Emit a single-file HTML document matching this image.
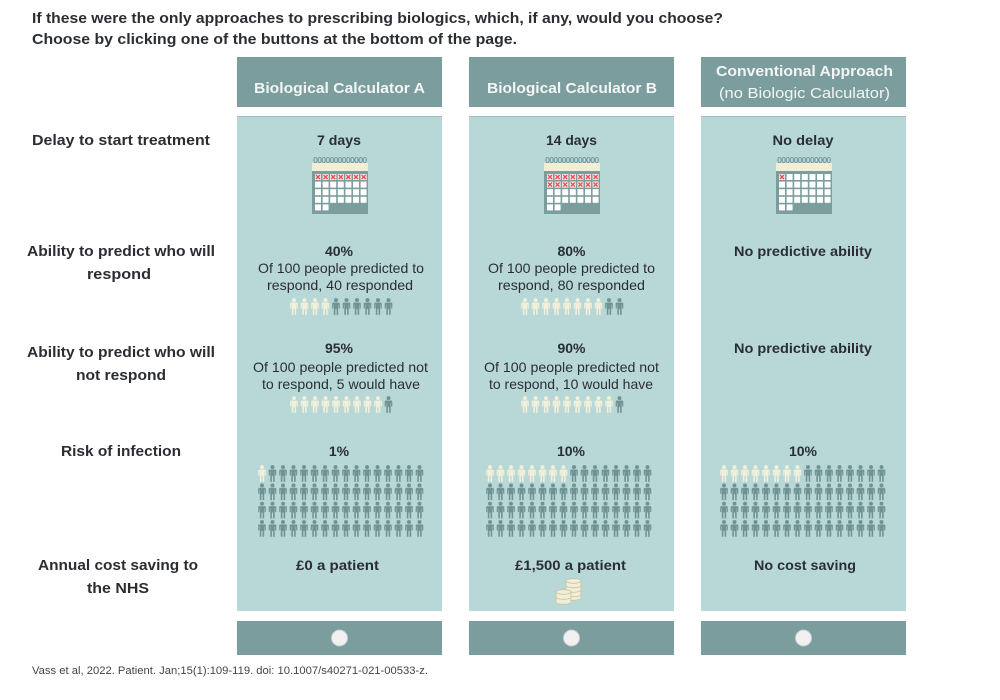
<!DOCTYPE html>
<html><head><meta charset="utf-8"><style>
html,body{margin:0;padding:0;background:#fff;width:1000px;height:700px;overflow:hidden}
svg{display:block}
text{font-family:"Liberation Sans",Arial,sans-serif;fill:#2a2e33}
.t{font-size:15px;font-weight:bold}
.h{font-size:15px;font-weight:bold;fill:#f4f5f5}
.hr{font-size:15px;fill:#f4f5f5}
.v{font-size:14px;font-weight:bold}
.d{font-size:14px}
</style></head><body>
<svg width="1000" height="700" viewBox="0 0 1000 700" xmlns="http://www.w3.org/2000/svg">
<defs>
<symbol id="p" viewBox="0 0 8 17" width="8" height="17">
<circle cx="4" cy="2.1" r="2"/>
<path d="M1.2,4.6 H6.8 A1,1 0 0 1 7.8,5.6 V10.5 H6.6 V6.6 H6.2 V17 H4.6 V11 H3.4 V17 H1.8 V6.6 H1.4 V10.5 H0.2 V5.6 A1,1 0 0 1 1.2,4.6 Z"/>
</symbol>
<pattern id="pd" patternUnits="userSpaceOnUse" x="0" y="0" width="10.5" height="18.3"><use href="#p" x="0" y="0" fill="#6f9292"/></pattern>
<pattern id="pl" patternUnits="userSpaceOnUse" x="0" y="0" width="10.5" height="18.3"><use href="#p" x="0" y="0" fill="#f3f0d9"/></pattern>
<g id="cal">
<g fill="none" stroke="#6f8f8f" stroke-width="0.9">
<ellipse cx="3.5" cy="3" rx="1.6" ry="2.6"/><ellipse cx="7.6" cy="3" rx="1.6" ry="2.6"/><ellipse cx="11.7" cy="3" rx="1.6" ry="2.6"/><ellipse cx="15.8" cy="3" rx="1.6" ry="2.6"/><ellipse cx="19.9" cy="3" rx="1.6" ry="2.6"/><ellipse cx="24" cy="3" rx="1.6" ry="2.6"/><ellipse cx="28.1" cy="3" rx="1.6" ry="2.6"/><ellipse cx="32.2" cy="3" rx="1.6" ry="2.6"/><ellipse cx="36.3" cy="3" rx="1.6" ry="2.6"/><ellipse cx="40.4" cy="3" rx="1.6" ry="2.6"/><ellipse cx="44.5" cy="3" rx="1.6" ry="2.6"/><ellipse cx="48.6" cy="3" rx="1.6" ry="2.6"/><ellipse cx="52.7" cy="3" rx="1.6" ry="2.6"/>
</g>
<rect x="0" y="6" width="56" height="8" fill="#f2eed5"/>
<rect x="0" y="14" width="56" height="43" fill="#7b9d9d"/>
<g fill="#ffffff">
<rect x="3" y="17" width="6" height="6"/><rect x="10.6" y="17" width="6" height="6"/><rect x="18.2" y="17" width="6" height="6"/><rect x="25.8" y="17" width="6" height="6"/><rect x="33.4" y="17" width="6" height="6"/><rect x="41" y="17" width="6" height="6"/><rect x="48.6" y="17" width="6" height="6"/>
<rect x="3" y="24.6" width="6" height="6"/><rect x="10.6" y="24.6" width="6" height="6"/><rect x="18.2" y="24.6" width="6" height="6"/><rect x="25.8" y="24.6" width="6" height="6"/><rect x="33.4" y="24.6" width="6" height="6"/><rect x="41" y="24.6" width="6" height="6"/><rect x="48.6" y="24.6" width="6" height="6"/>
<rect x="3" y="32.2" width="6" height="6"/><rect x="10.6" y="32.2" width="6" height="6"/><rect x="18.2" y="32.2" width="6" height="6"/><rect x="25.8" y="32.2" width="6" height="6"/><rect x="33.4" y="32.2" width="6" height="6"/><rect x="41" y="32.2" width="6" height="6"/><rect x="48.6" y="32.2" width="6" height="6"/>
<rect x="3" y="39.8" width="6" height="6"/><rect x="10.6" y="39.8" width="6" height="6"/><rect x="18.2" y="39.8" width="6" height="6"/><rect x="25.8" y="39.8" width="6" height="6"/><rect x="33.4" y="39.8" width="6" height="6"/><rect x="41" y="39.8" width="6" height="6"/><rect x="48.6" y="39.8" width="6" height="6"/>
<rect x="3" y="47.4" width="6" height="6"/><rect x="10.6" y="47.4" width="6" height="6"/>
</g>
</g>
<g id="xc"><rect x="0" y="0" width="6" height="6" fill="#fbe1e1"/><path d="M1,1 L5,5 M5,1 L1,5" stroke="#e6504f" stroke-width="1.3"/></g>
<g id="xrow"><use href="#xc" x="3"/><use href="#xc" x="10.6"/><use href="#xc" x="18.2"/><use href="#xc" x="25.8"/><use href="#xc" x="33.4"/><use href="#xc" x="41"/><use href="#xc" x="48.6"/></g>
</defs>

<!-- title -->
<text class="t" x="32" y="23" textLength="691" lengthAdjust="spacingAndGlyphs">If these were the only approaches to prescribing biologics, which, if any, would you choose?</text>
<text class="t" x="32" y="44" textLength="485" lengthAdjust="spacingAndGlyphs">Choose by clicking one of the buttons at the bottom of the page.</text>

<!-- headers -->
<rect x="237" y="57" width="205" height="50" fill="#7b9d9d"/>
<rect x="469" y="57" width="205" height="50" fill="#7b9d9d"/>
<rect x="701" y="57" width="205" height="50" fill="#7b9d9d"/>
<text class="h" x="339.5" y="93" text-anchor="middle" textLength="171" lengthAdjust="spacingAndGlyphs">Biological Calculator A</text>
<text class="h" x="572" y="93" text-anchor="middle" textLength="170" lengthAdjust="spacingAndGlyphs">Biological Calculator B</text>
<text class="h" x="804.5" y="76" text-anchor="middle" textLength="177" lengthAdjust="spacingAndGlyphs">Conventional Approach</text>
<text class="hr" x="804.5" y="98" text-anchor="middle" textLength="171" lengthAdjust="spacingAndGlyphs">(no Biologic Calculator)</text>

<!-- bodies -->
<rect x="237" y="116" width="205" height="495" fill="#b8d7d7"/>
<rect x="469" y="116" width="205" height="495" fill="#b8d7d7"/>
<rect x="701" y="116" width="205" height="495" fill="#b8d7d7"/>
<rect x="237" y="116" width="205" height="1" fill="#9dbebe"/>
<rect x="469" y="116" width="205" height="1" fill="#9dbebe"/>
<rect x="701" y="116" width="205" height="1" fill="#9dbebe"/>

<!-- buttons -->
<rect x="237" y="621" width="205" height="34" fill="#7b9d9d"/>
<rect x="469" y="621" width="205" height="34" fill="#7b9d9d"/>
<rect x="701" y="621" width="205" height="34" fill="#7b9d9d"/>
<circle cx="339.5" cy="638" r="8" fill="#f1f1f1" stroke="#c9cccc" stroke-width="1"/>
<circle cx="571.5" cy="638" r="8" fill="#f1f1f1" stroke="#c9cccc" stroke-width="1"/>
<circle cx="803.5" cy="638" r="8" fill="#f1f1f1" stroke="#c9cccc" stroke-width="1"/>

<!-- row labels -->
<text class="t" x="121" y="145" text-anchor="middle" textLength="178" lengthAdjust="spacingAndGlyphs">Delay to start treatment</text>
<text class="t" x="121" y="256" text-anchor="middle" textLength="188" lengthAdjust="spacingAndGlyphs">Ability to predict who will</text>
<text class="t" x="119" y="279" text-anchor="middle" textLength="64" lengthAdjust="spacingAndGlyphs">respond</text>
<text class="t" x="121" y="357" text-anchor="middle" textLength="188" lengthAdjust="spacingAndGlyphs">Ability to predict who will</text>
<text class="t" x="121" y="380" text-anchor="middle" textLength="90" lengthAdjust="spacingAndGlyphs">not respond</text>
<text class="t" x="121" y="456" text-anchor="middle" textLength="120" lengthAdjust="spacingAndGlyphs">Risk of infection</text>
<text class="t" x="118" y="570" text-anchor="middle" textLength="160" lengthAdjust="spacingAndGlyphs">Annual cost saving to</text>
<text class="t" x="118" y="593" text-anchor="middle" textLength="62" lengthAdjust="spacingAndGlyphs">the NHS</text>

<!-- delay -->
<text class="v" x="339" y="145" text-anchor="middle" textLength="44" lengthAdjust="spacingAndGlyphs">7 days</text>
<text class="v" x="571.5" y="145" text-anchor="middle" textLength="51" lengthAdjust="spacingAndGlyphs">14 days</text>
<text class="v" x="803" y="145" text-anchor="middle" textLength="61" lengthAdjust="spacingAndGlyphs">No delay</text>
<g transform="translate(312,157)"><use href="#cal"/><use href="#xrow" y="17"/></g>
<g transform="translate(544,157)"><use href="#cal"/><use href="#xrow" y="17"/><use href="#xrow" y="24.6"/></g>
<g transform="translate(776,157)"><use href="#cal"/><use href="#xc" x="3" y="17"/></g>

<!-- predict respond -->
<text class="v" x="339" y="256" text-anchor="middle">40%</text>
<text class="d" x="341" y="273" text-anchor="middle" textLength="166" lengthAdjust="spacingAndGlyphs">Of 100 people predicted to</text>
<text class="d" x="340" y="290" text-anchor="middle" textLength="146" lengthAdjust="spacingAndGlyphs">respond, 40 responded</text>
<g transform="translate(290,298)"><rect x="0" y="0" width="42" height="18.3" fill="url(#pl)"/><rect x="42" y="0" width="63" height="18.3" fill="url(#pd)" transform="translate(0,0)"/></g>

<text class="v" x="571.5" y="256" text-anchor="middle">80%</text>
<text class="d" x="571.5" y="273" text-anchor="middle" textLength="167" lengthAdjust="spacingAndGlyphs">Of 100 people predicted to</text>
<text class="d" x="571.5" y="290" text-anchor="middle" textLength="147" lengthAdjust="spacingAndGlyphs">respond, 80 responded</text>
<g transform="translate(521,298)"><rect x="0" y="0" width="84" height="18.3" fill="url(#pl)"/><rect x="84" y="0" width="21" height="18.3" fill="url(#pd)"/></g>

<text class="v" x="803" y="256" text-anchor="middle" textLength="138" lengthAdjust="spacingAndGlyphs">No predictive ability</text>

<!-- predict not respond -->
<text class="v" x="339" y="353" text-anchor="middle">95%</text>
<text class="d" x="340.5" y="372" text-anchor="middle" textLength="175" lengthAdjust="spacingAndGlyphs">Of 100 people predicted not</text>
<text class="d" x="341" y="389" text-anchor="middle" textLength="158" lengthAdjust="spacingAndGlyphs">to respond, 5 would have</text>
<g transform="translate(290,396)"><rect x="0" y="0" width="94.5" height="18.3" fill="url(#pl)"/><rect x="94.5" y="0" width="10.5" height="18.3" fill="url(#pd)"/></g>

<text class="v" x="571.5" y="353" text-anchor="middle">90%</text>
<text class="d" x="571.5" y="372" text-anchor="middle" textLength="175" lengthAdjust="spacingAndGlyphs">Of 100 people predicted not</text>
<text class="d" x="571" y="389" text-anchor="middle" textLength="164" lengthAdjust="spacingAndGlyphs">to respond, 10 would have</text>
<g transform="translate(521,396)"><rect x="0" y="0" width="94.5" height="18.3" fill="url(#pl)"/><rect x="94.5" y="0" width="10.5" height="18.3" fill="url(#pd)"/></g>

<text class="v" x="803" y="353" text-anchor="middle" textLength="138" lengthAdjust="spacingAndGlyphs">No predictive ability</text>

<!-- risk of infection -->
<text class="v" x="339" y="456" text-anchor="middle">1%</text>
<text class="v" x="571" y="456" text-anchor="middle">10%</text>
<text class="v" x="803" y="456" text-anchor="middle">10%</text>
<g transform="translate(258,465)"><rect x="0" y="0" width="10.5" height="18.3" fill="url(#pl)"/><rect x="10.5" y="0" width="157.5" height="18.3" fill="url(#pd)"/><rect x="0" y="18.3" width="168" height="54.9" fill="url(#pd)"/></g>
<g transform="translate(486,465)"><rect x="0" y="0" width="84" height="18.3" fill="url(#pl)"/><rect x="84" y="0" width="84" height="18.3" fill="url(#pd)"/><rect x="0" y="18.3" width="168" height="54.9" fill="url(#pd)"/></g>
<g transform="translate(720,465)"><rect x="0" y="0" width="84" height="18.3" fill="url(#pl)"/><rect x="84" y="0" width="84" height="18.3" fill="url(#pd)"/><rect x="0" y="18.3" width="168" height="54.9" fill="url(#pd)"/></g>

<!-- cost -->
<text class="v" x="337.5" y="570" text-anchor="middle" textLength="83" lengthAdjust="spacingAndGlyphs">£0 a patient</text>
<text class="v" x="570.5" y="570" text-anchor="middle" textLength="111" lengthAdjust="spacingAndGlyphs">£1,500 a patient</text>
<text class="v" x="805" y="570" text-anchor="middle" textLength="102" lengthAdjust="spacingAndGlyphs">No cost saving</text>
<g stroke="#c8c3a4" stroke-width="0.8" fill="#f2eed5">
<path d="M566,581 V598 A7.5,2.3 0 0 0 581,598 V581 Z"/>
<ellipse cx="573.5" cy="581" rx="7.5" ry="2.3"/>
<path d="M566,585.5 A7.5,2.3 0 0 0 581,585.5 M566,590 A7.5,2.3 0 0 0 581,590 M566,594.5 A7.5,2.3 0 0 0 581,594.5" fill="none"/>
<path d="M556,592 V602 A7.5,2.3 0 0 0 571,602 V592 Z"/>
<ellipse cx="563.5" cy="592" rx="7.5" ry="2.3"/>
<path d="M556,597 A7.5,2.3 0 0 0 571,597" fill="none"/>
</g>

<!-- footer -->
<text x="32" y="674" font-size="11" fill="#444" style="fill:#444" textLength="396" lengthAdjust="spacingAndGlyphs">Vass et al, 2022. Patient. Jan;15(1):109-119. doi: 10.1007/s40271-021-00533-z.</text>
</svg>
</body></html>
